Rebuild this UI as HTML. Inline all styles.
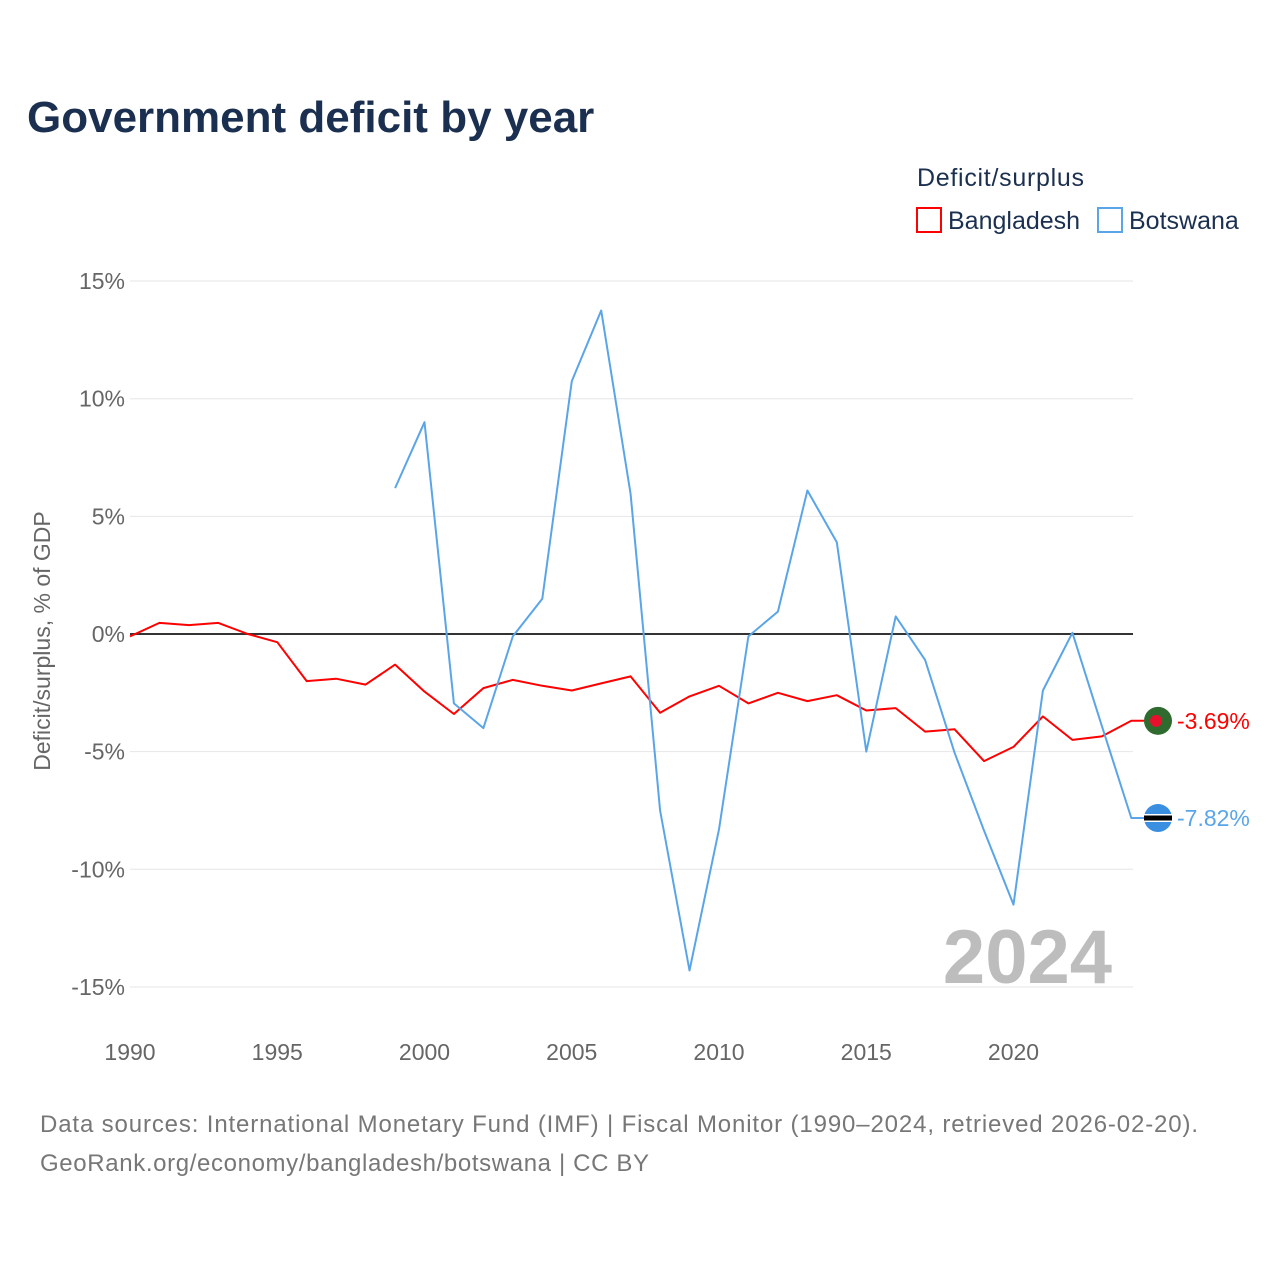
<!DOCTYPE html>
<html><head><meta charset="utf-8"><style>
body{margin:0;background:#fff;font-family:"Liberation Sans",sans-serif}
svg text{font-family:"Liberation Sans",sans-serif}
</style></head><body>
<svg width="1280" height="1280" viewBox="0 0 1280 1280" xmlns="http://www.w3.org/2000/svg">
<rect width="1280" height="1280" fill="#fff"/>
<text x="27" y="132" font-size="44" font-weight="bold" fill="#1b3050">Government deficit by year</text>
<text x="917" y="186" font-size="25" fill="#1b3050" textLength="167">Deficit/surplus</text>
<g><rect x="917" y="208" width="24" height="24" fill="none" stroke="#ff0000" stroke-width="2"/><text x="948" y="229" font-size="25" fill="#1b3050">Bangladesh</text></g>
<g><rect x="1098" y="208" width="24" height="24" fill="none" stroke="#5aa5e8" stroke-width="2"/><text x="1129" y="229" font-size="25" fill="#1b3050">Botswana</text></g>
<g id="grid"></g>
<g id="xticks"></g>
<g id="yticks"></g>
<text transform="translate(50,641) rotate(-90)" text-anchor="middle" font-size="23" fill="#666">Deficit/surplus, % of GDP</text>
<text x="1112" y="983" text-anchor="end" font-size="76" font-weight="bold" fill="#bdbdbd">2024</text>
<g id="series"></g>
<text x="40" y="1132" font-size="24" fill="#777" textLength="1158">Data sources: International Monetary Fund (IMF) | Fiscal Monitor (1990–2024, retrieved 2026-02-20).</text>
<text x="40" y="1171" font-size="24" fill="#777" textLength="609">GeoRank.org/economy/bangladesh/botswana | CC BY</text>
</svg>
<script>
const years=[];for(let y=1990;y<=2024;y++)years.push(y);
const bangladesh=[-0.1,0.47,0.38,0.47,0,-0.35,-2.0,-1.9,-2.15,-1.3,-2.45,-3.4,-2.3,-1.95,-2.2,-2.4,-2.1,-1.8,-3.35,-2.65,-2.2,-2.95,-2.5,-2.85,-2.6,-3.25,-3.15,-4.15,-4.05,-5.4,-4.8,-3.5,-4.5,-4.35,-3.69];
const botswana=[null,null,null,null,null,null,null,null,null,6.2,9.0,-2.95,-4.0,-0.1,1.5,10.75,13.75,5.95,-7.5,-14.3,-8.3,-0.1,0.95,6.1,3.9,-5.0,0.75,-1.1,-5.05,-8.35,-11.5,-2.4,0.05,-3.9,-7.82];
const yTicks=[15,10,5,0,-5,-10,-15];
const xTicks=[1990,1995,2000,2005,2010,2015,2020];
const NS="http://www.w3.org/2000/svg";
const X=y=>130+(y-1990)*29.45;
const Y=v=>634-v*23.53;
function mk(t,a,p){const e=document.createElementNS(NS,t);for(const k in a)e.setAttribute(k,a[k]);p.appendChild(e);return e;}
const grid=document.getElementById('grid'),yt=document.getElementById('yticks'),xt=document.getElementById('xticks'),ser=document.getElementById('series');
yTicks.forEach(v=>{
 const l=mk('line',{x1:130,x2:1133,y1:Y(v),y2:Y(v),stroke:v===0?'#333':'#e6e6e6','stroke-width':v===0?2:1},grid);
 
 
 const t=mk('text',{x:125,y:Y(v)+8,'text-anchor':'end','font-size':23,fill:'#666'},yt);
 t.textContent=v+'%';
 
 
});
xTicks.forEach(v=>{
 const t=mk('text',{x:X(v),y:1060,'text-anchor':'middle','font-size':23,fill:'#666'},xt);
 t.textContent=v;
 
 
});
function line(vals,color,name){
 let d='';vals.forEach((v,i)=>{if(v===null)return;d+=(d?'L':'M')+X(years[i]).toFixed(1)+','+Y(v).toFixed(1);});
 const last=vals[vals.length-1];
 d+='L1146,'+Y(last).toFixed(1);
 const p=mk('path',{d:d,fill:'none',stroke:color,'stroke-width':2,'stroke-linejoin':'round'},ser);
 
 
 return last;
}
const lb=line(bangladesh,'#ff0000','bangladesh');
const lw=line(botswana,'#5aa5e8','botswana');
let g=mk('g',{},ser);


mk('circle',{cx:1158,cy:Y(lb),r:14,fill:'#2f6b2f'},g);
mk('circle',{cx:1156,cy:Y(lb),r:6,fill:'#e8112d'},g);
let t=mk('text',{x:1177,y:Y(lb)+8,'font-size':23,fill:'#ff0000'},g);t.textContent=lb.toFixed(2)+'%';
g=mk('g',{},ser);


mk('circle',{cx:1158,cy:Y(lw),r:14,fill:'#3a8fe0'},g);
mk('rect',{x:1144,y:Y(lw)-4,width:28,height:8,fill:'#fff'},g);
mk('rect',{x:1144,y:Y(lw)-2.5,width:28,height:5,fill:'#000'},g);
t=mk('text',{x:1177,y:Y(lw)+8,'font-size':23,fill:'#5aa5e8'},g);t.textContent=lw.toFixed(2)+'%';
</script>
</body></html>
